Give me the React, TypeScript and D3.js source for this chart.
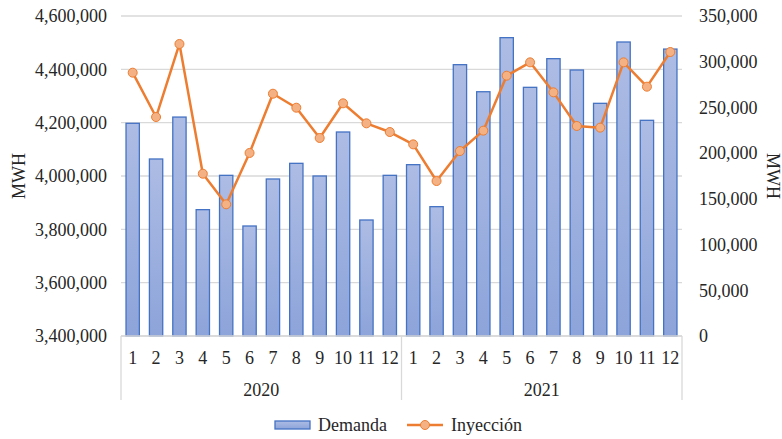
import * as d3 from "d3";
import React from "react";

// datos
const years = ["2020", "2021"];
const months = ["1", "2", "3", "4", "5", "6", "7", "8", "9", "10", "11", "12"];
const demanda2020 = [4197600, 4063800, 4221000, 3873800, 4002500, 3812500, 3988800, 4047500, 4000000, 4165000, 3835000, 4002500];
const demanda2021 = [4042500, 3885000, 4417500, 4316000, 4518800, 4332500, 4440000, 4397500, 4272500, 4502500, 4208800, 4476000];
const inyeccion2020 = [288000, 239500, 319400, 177500, 144000, 200200, 265000, 249700, 216600, 254500, 232600, 223100];
const inyeccion2021 = [209600, 169500, 202300, 224600, 284700, 299300, 266500, 229700, 227900, 299300, 272700, 310600];
const leftTicks = [3400000, 3600000, 3800000, 4000000, 4200000, 4400000, 4600000];
const rightTicks = [0, 50000, 100000, 150000, 200000, 250000, 300000, 350000];

const W = 782;
const H = 439;
const margin = { top: 16, right: 100, bottom: 103, left: 121 };
const FONT = "Liberation Serif, Times New Roman, DejaVu Serif, serif";

const App = () => {
    const keys = years.flatMap(y => months.map(m => `${y}-${m}`));
    const demanda = [...demanda2020, ...demanda2021];
    const inyeccion = [...inyeccion2020, ...inyeccion2021];

    const x0 = margin.left;
    const x1 = W - margin.right;
    const yTop = margin.top;
    const yBot = H - margin.bottom;

    const x = d3.scaleBand().domain(keys).range([x0, x1]).paddingInner(0.43).paddingOuter(0.215);
    const xStep = d3.scaleBand().domain(keys).range([x0, x1]);
    const yL = d3.scaleLinear().domain([3400000, 4600000]).range([yBot, yTop]);
    const yR = d3.scaleLinear().domain([0, 350000]).range([yBot, yTop]);
    const fmt = d3.format(",");

    const line = d3.line<number>()
        .x((_, i) => xStep(keys[i])! + xStep.bandwidth() / 2)
        .y(d => yR(d));

    const yearX = d3.scaleBand().domain(years).range([x0, x1]);
    const txt = { fontFamily: FONT, fontSize: "18px", fill: "#262626" };

    return (
        <svg width={W} height={H} style={{ position: "absolute", left: 0, top: 0, background: "#fff" }}>
            <defs>
                <linearGradient id="barGrad" x1="0" y1="0" x2="0" y2="1">
                    <stop offset="0%" stopColor="#adbce4" />
                    <stop offset="100%" stopColor="#8da4da" />
                </linearGradient>
            </defs>

            {/* rejilla */}
            {leftTicks.map(t => (
                <line key={t} x1={x0} x2={x1} y1={yL(t)} y2={yL(t)} stroke="#d9d9d9" strokeWidth={1.3} />
            ))}

            {/* eje izquierdo */}
            {leftTicks.map(t => (
                <text key={t} x={107} y={yL(t)} dy="0.35em" textAnchor="end" style={txt}>{fmt(t)}</text>
            ))}
            {/* eje derecho */}
            {rightTicks.map(t => (
                <text key={t} x={699} y={yR(t)} dy="0.35em" textAnchor="start" style={txt}>{fmt(t)}</text>
            ))}

            <text transform={`translate(25, ${(yTop + yBot) / 2}) rotate(-90)`} textAnchor="middle" style={txt}>MWH</text>
            <text transform={`translate(767, ${(yTop + yBot) / 2}) rotate(90)`} textAnchor="middle" style={txt}>MWH</text>

            {/* barras */}
            {demanda.map((d, i) => (
                <rect key={keys[i]} x={x(keys[i])} y={yL(d)} width={x.bandwidth()} height={yBot - yL(d)}
                    fill="url(#barGrad)" stroke="#4472c4" strokeWidth={1.3} />
            ))}

            {/* eje x */}
            <line x1={x0} x2={x1} y1={yBot} y2={yBot} stroke="#d9d9d9" strokeWidth={1.3} />
            {[x0, x0 + (x1 - x0) / 2, x1].map((v, i) => (
                <line key={i} x1={v} x2={v} y1={yBot} y2={400} stroke="#d9d9d9" strokeWidth={1.3} />
            ))}
            {keys.map((k, i) => (
                <text key={k} x={xStep(k)! + xStep.bandwidth() / 2} y={364} textAnchor="middle" style={txt}>
                    {months[i % 12]}
                </text>
            ))}
            {years.map(y => (
                <text key={y} x={yearX(y)! + yearX.bandwidth() / 2} y={396} textAnchor="middle" style={txt}>{y}</text>
            ))}

            {/* línea */}
            <path d={line(inyeccion)!} fill="none" stroke="#ed7d31" strokeWidth={2.5} strokeLinejoin="round" />
            {inyeccion.map((d, i) => (
                <circle key={keys[i]} cx={xStep(keys[i])! + xStep.bandwidth() / 2} cy={yR(d)} r={4.5}
                    fill="#f4b183" stroke="#ed7d31" strokeWidth={1} />
            ))}

            {/* leyenda */}
            <rect x={275} y={421} width={35} height={8} fill="url(#barGrad)" stroke="#4472c4" strokeWidth={1.3} />
            <text x={318} y={431} style={txt}>Demanda</text>
            <line x1={407} x2={443} y1={425} y2={425} stroke="#ed7d31" strokeWidth={2.5} />
            <circle cx={425} cy={425} r={4.5} fill="#f4b183" stroke="#ed7d31" strokeWidth={1} />
            <text x={451} y={431} style={txt}>Inyección</text>
        </svg>
    );
};

export default App;
